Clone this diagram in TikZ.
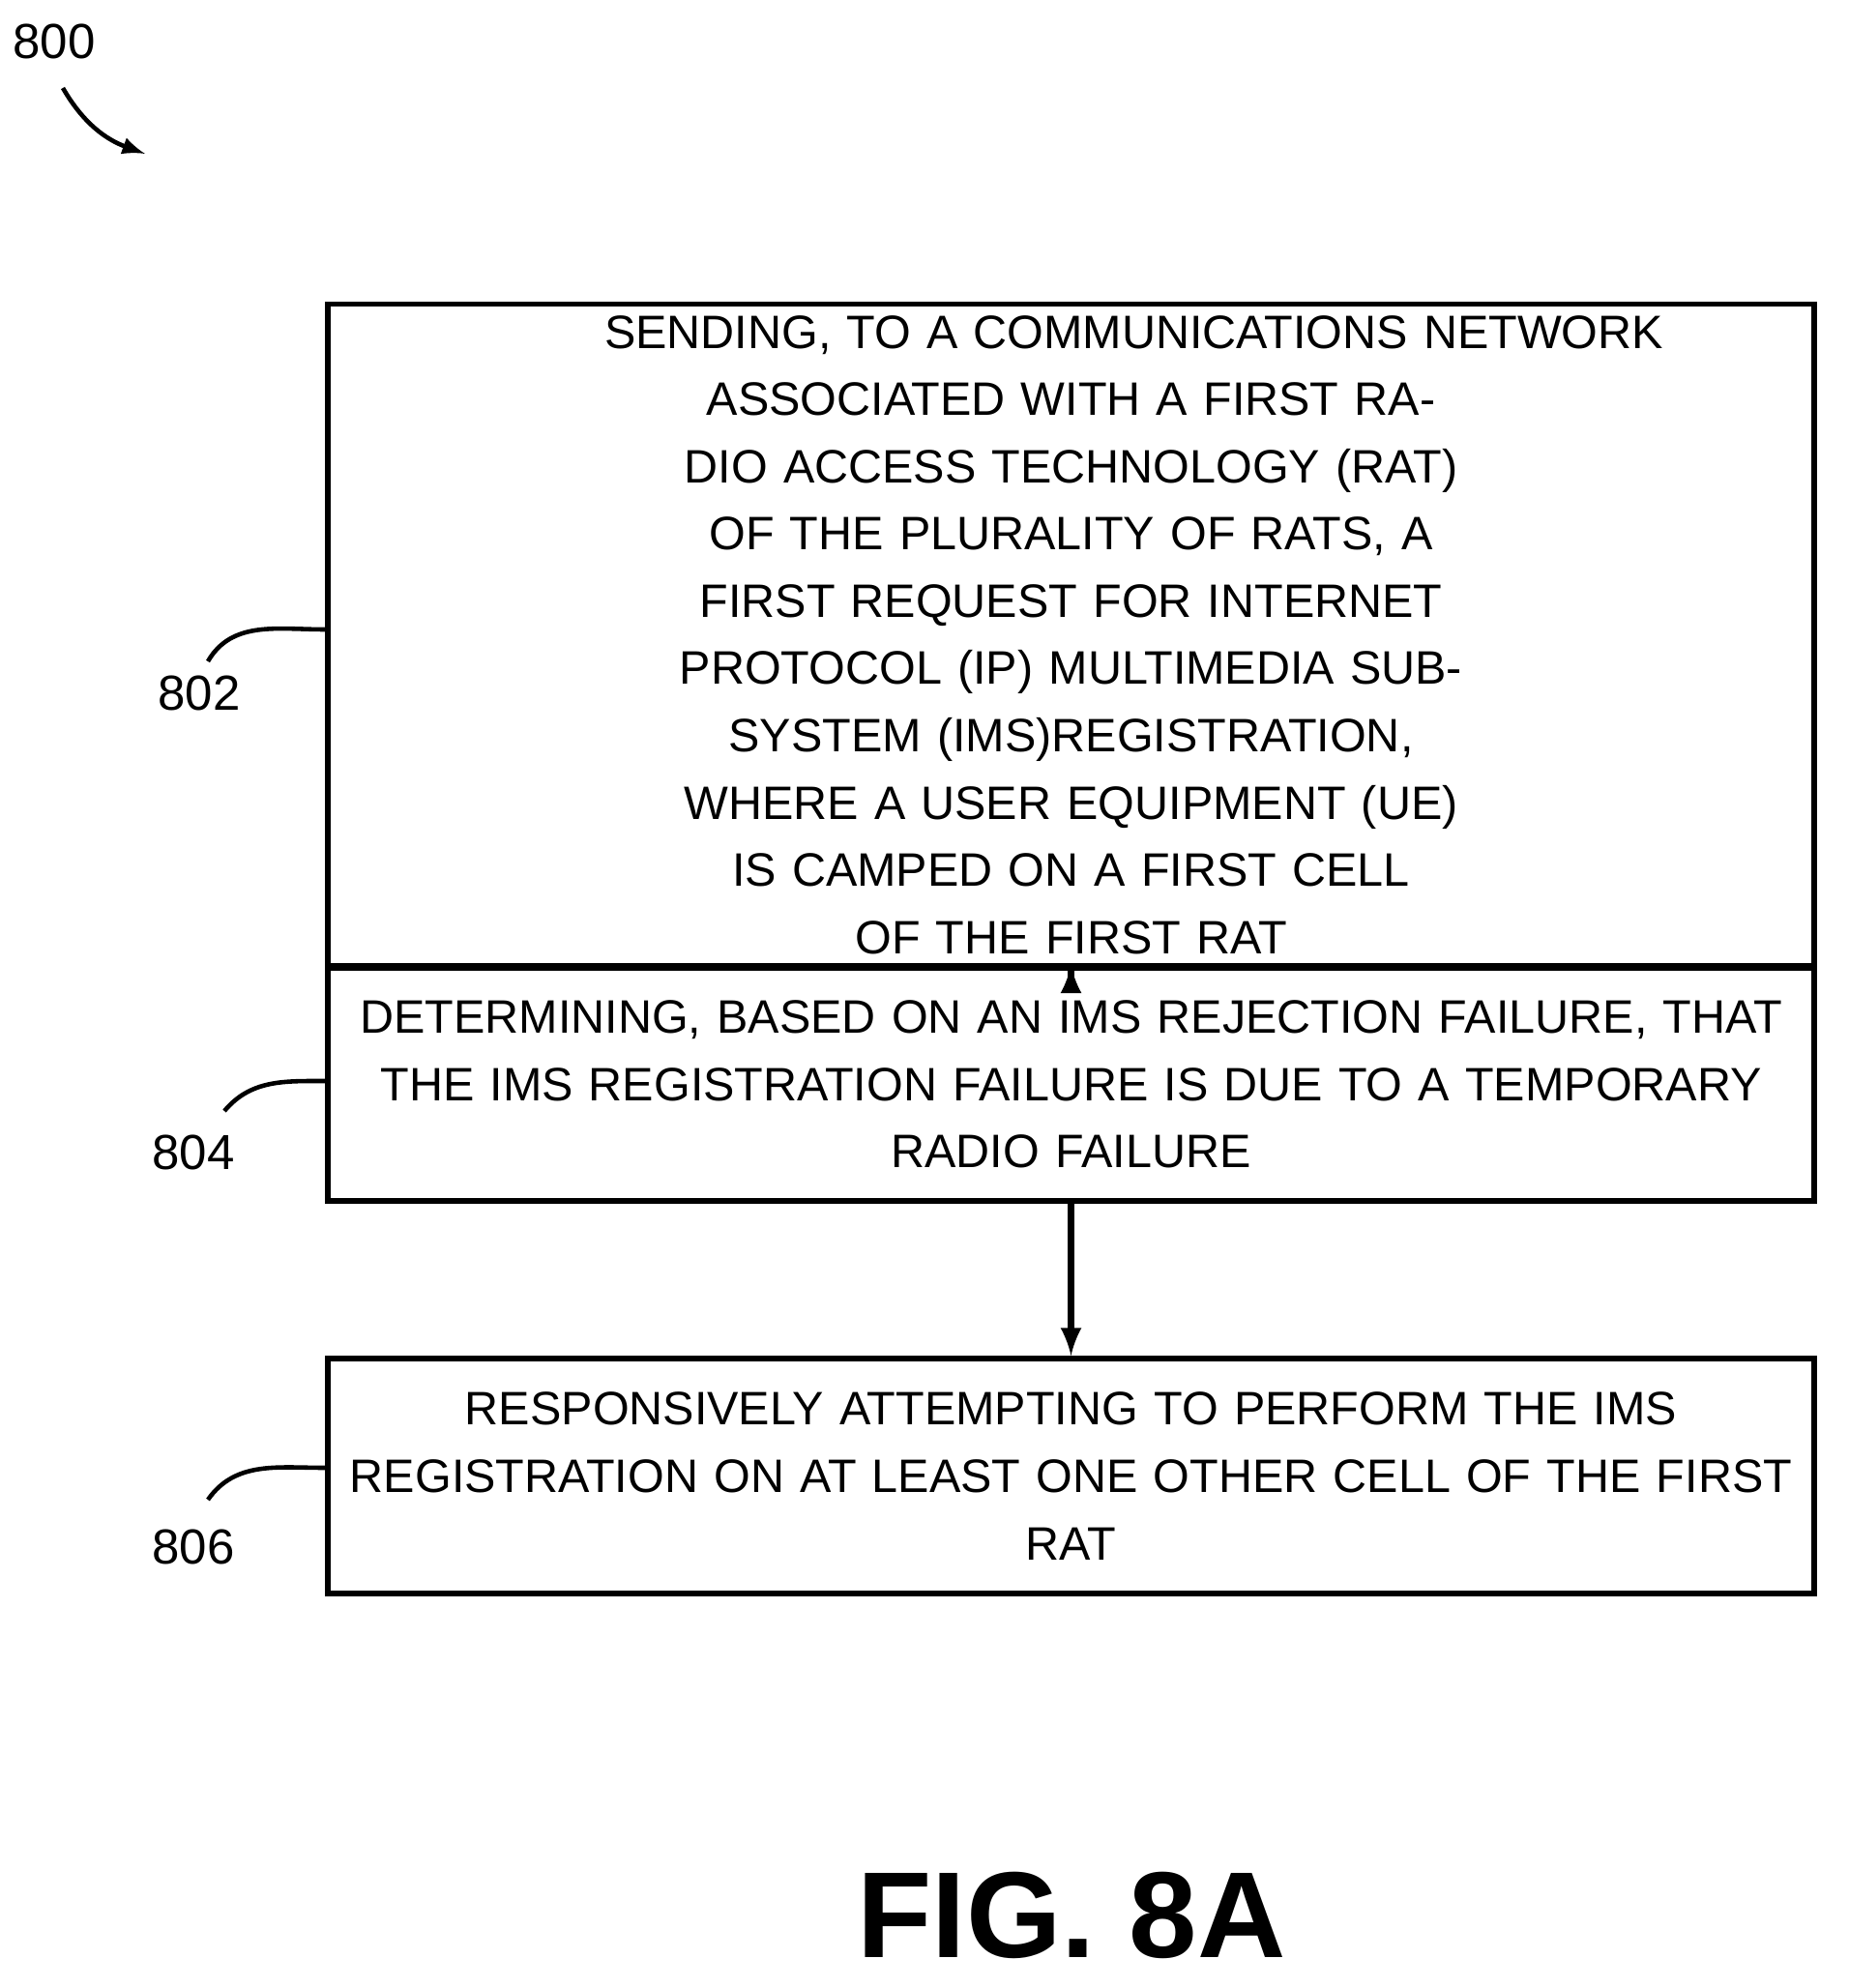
\documentclass[tikz,border=0pt]{standalone}
\usepackage{fontspec}
\setmainfont{Liberation Sans}
\usetikzlibrary{positioning}
\tikzstyle{arrow} = [-latex, line width=1.8pt]
\tikzstyle{stepbox} = [draw, line width=1.6pt, text width=15.0cm, minimum width=15.37cm, align=center, font=\fontsize{13.8}{19.8}\selectfont]
\tikzstyle{ref} = [font=\fontsize{14.5}{19}\selectfont]
\begin{document}
\begin{tikzpicture}
	\useasboundingbox (0,0) rectangle (19.11,-20.56);
	\node (s802) [stepbox, minimum height=4.59cm] at (11.075,-6.565) {\hspace*{1.3cm}SENDING, TO A COMMUNICATIONS NETWORK\\ASSOCIATED WITH A FIRST RADIO ACCESS TECHNOLOGY (RAT)\\OF THE PLURALITY OF RATS, A FIRST REQUEST FOR INTERNET\\PROTOCOL (IP) MULTIMEDIA SUBSYSTEM (IMS)REGISTRATION,\\WHERE A USER EQUIPMENT (UE) IS CAMPED ON A FIRST CELL\\OF THE FIRST RAT};
	\node (s804) [stepbox, minimum height=2.41cm] at (11.075,-11.215) {DETERMINING, BASED ON AN IMS REJECTION FAILURE, THAT\\THE IMS REGISTRATION FAILURE IS DUE TO A TEMPORARY\\RADIO FAILURE};
	\node (s806) [stepbox, minimum height=2.43cm] at (11.075,-15.265) {RESPONSIVELY ATTEMPTING TO PERFORM THE IMS\\REGISTRATION ON AT LEAST ONE OTHER CELL OF THE FIRST\\RAT};

	\draw [arrow] (s802) -- (s804);
	\draw [arrow] (s804) -- (s806);

	% reference numerals
	\node (l800) [ref] at (0.56,-0.43) {800};
	\coordinate (t800) at (1.5,-1.59);
	\draw [arrow, line width=1.3pt] (0.65,-0.91) to[out=-60,in=160] (t800);
	\node (l802) [ref] at (2.06,-7.17) {802};
	\draw [line width=1.3pt] (2.15,-6.84) to[out=60,in=180] (s802.west |- 0,-6.51);
	\node (l804) [ref] at (2.0,-11.92) {804};
	\draw [line width=1.3pt] (2.32,-11.49) to[out=50,in=180] (s804.west |- 0,-11.18);
	\node (l806) [ref] at (2.0,-16.0) {806};
	\draw [line width=1.3pt] (2.15,-15.51) to[out=55,in=180] (s806.west |- 0,-15.18);

	\node (fig) [font=\fontsize{36}{40}\selectfont\bfseries] at (11.08,-19.81) {FIG. 8A};
\end{tikzpicture}
\end{document}
